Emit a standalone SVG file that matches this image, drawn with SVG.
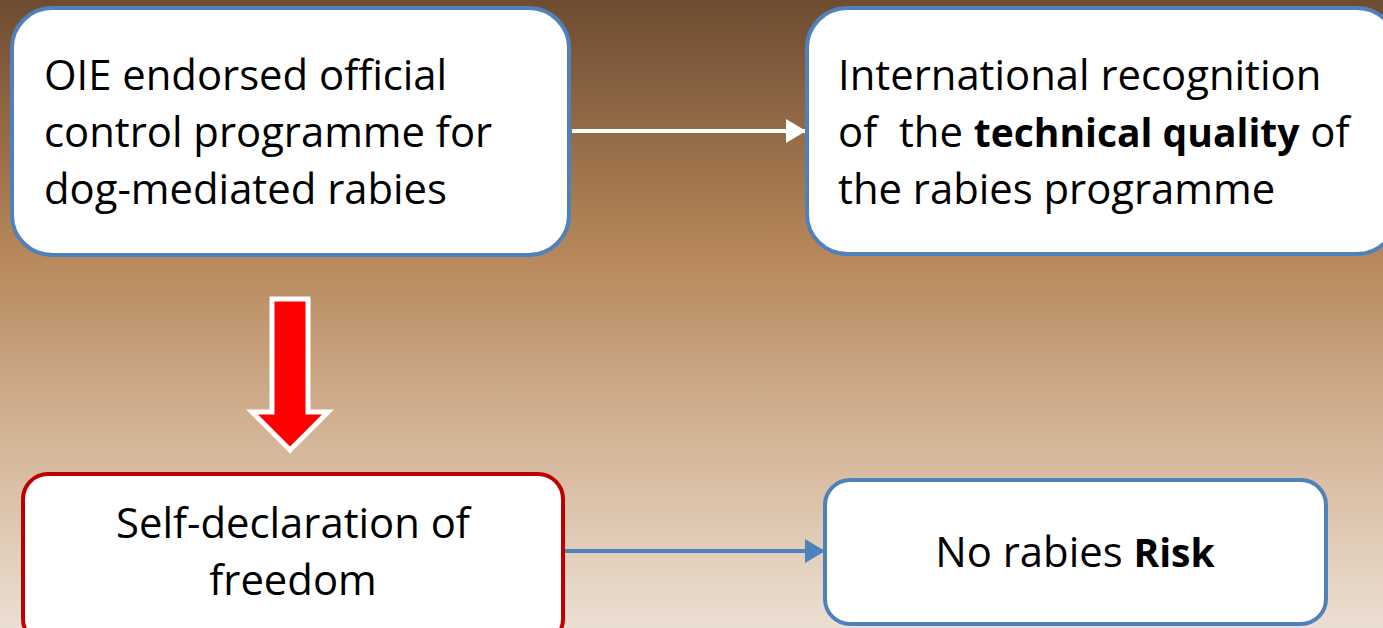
<svg xmlns="http://www.w3.org/2000/svg" width="1383" height="628" viewBox="0 0 1383 628">
<defs>
<linearGradient id="bg" x1="0" y1="0" x2="0" y2="1">
<stop offset="0" stop-color="#6E4C31"/>
<stop offset="0.4" stop-color="#B6875A"/>
<stop offset="0.7" stop-color="#D4B597"/>
<stop offset="1" stop-color="#EBDFD3"/>
</linearGradient>
<marker id="whiteHead" markerWidth="6" markerHeight="6" refX="5" refY="3" orient="auto" markerUnits="strokeWidth">
<path d="M0,0 L5,3 L0,6 Z" fill="#FFFFFF"/>
</marker>
<marker id="blueHead" markerWidth="6" markerHeight="6" refX="5" refY="3" orient="auto" markerUnits="strokeWidth">
<path d="M0,0 L5,3 L0,6 Z" fill="#4F81BD"/>
</marker>
</defs>
<style>
.box{fill:#FFFFFF;stroke:#4F81BD;stroke-width:4}
.redbox{fill:#FFFFFF;stroke:#C00000;stroke-width:4}
.t{font-family:"Open Sans","Liberation Sans",sans-serif;font-size:41.8px;fill:#000000}
.b{font-weight:bold;font-size:39px}
</style>
<rect x="0" y="0" width="1383" height="628" fill="url(#bg)"/>
<g id="connectors">
<line x1="572" y1="131" x2="806" y2="131" stroke="#FFFFFF" stroke-width="4" marker-end="url(#whiteHead)"/>
<line x1="563" y1="551" x2="825" y2="551" stroke="#4F81BD" stroke-width="4" marker-end="url(#blueHead)"/>
<polygon points="272,299 308,299 308,412 328,412 290,450 252,412 272,412" fill="#FF0000" stroke="#FFFFFF" stroke-width="5"/>
</g>
<g id="node-oie">
<rect class="box" x="12" y="8" width="557" height="247" rx="40" ry="40"/>
<text class="t" x="44" y="90">OIE endorsed official</text>
<text class="t" x="44" y="147">control programme for</text>
<text class="t" x="44" y="204">dog-mediated rabies</text>
</g>
<g id="node-recognition">
<rect class="box" x="807" y="8" width="590" height="246" rx="40" ry="40"/>
<text class="t" x="838" y="90">International recognition</text>
<text class="t" x="838" y="147" xml:space="preserve">of  the <tspan class="b">technical quality</tspan> of</text>
<text class="t" x="838" y="204">the rabies programme</text>
</g>
<g id="node-self">
<rect class="redbox" x="23" y="474" width="540" height="170" rx="25" ry="25"/>
<text class="t" x="293" y="538" text-anchor="middle">Self-declaration of</text>
<text class="t" x="293" y="595" text-anchor="middle">freedom</text>
</g>
<g id="node-norisk">
<rect class="box" x="825" y="480" width="501" height="144" rx="25" ry="25"/>
<text class="t" x="1075" y="567" text-anchor="middle">No rabies <tspan class="b">Risk</tspan></text>
</g>
</svg>
